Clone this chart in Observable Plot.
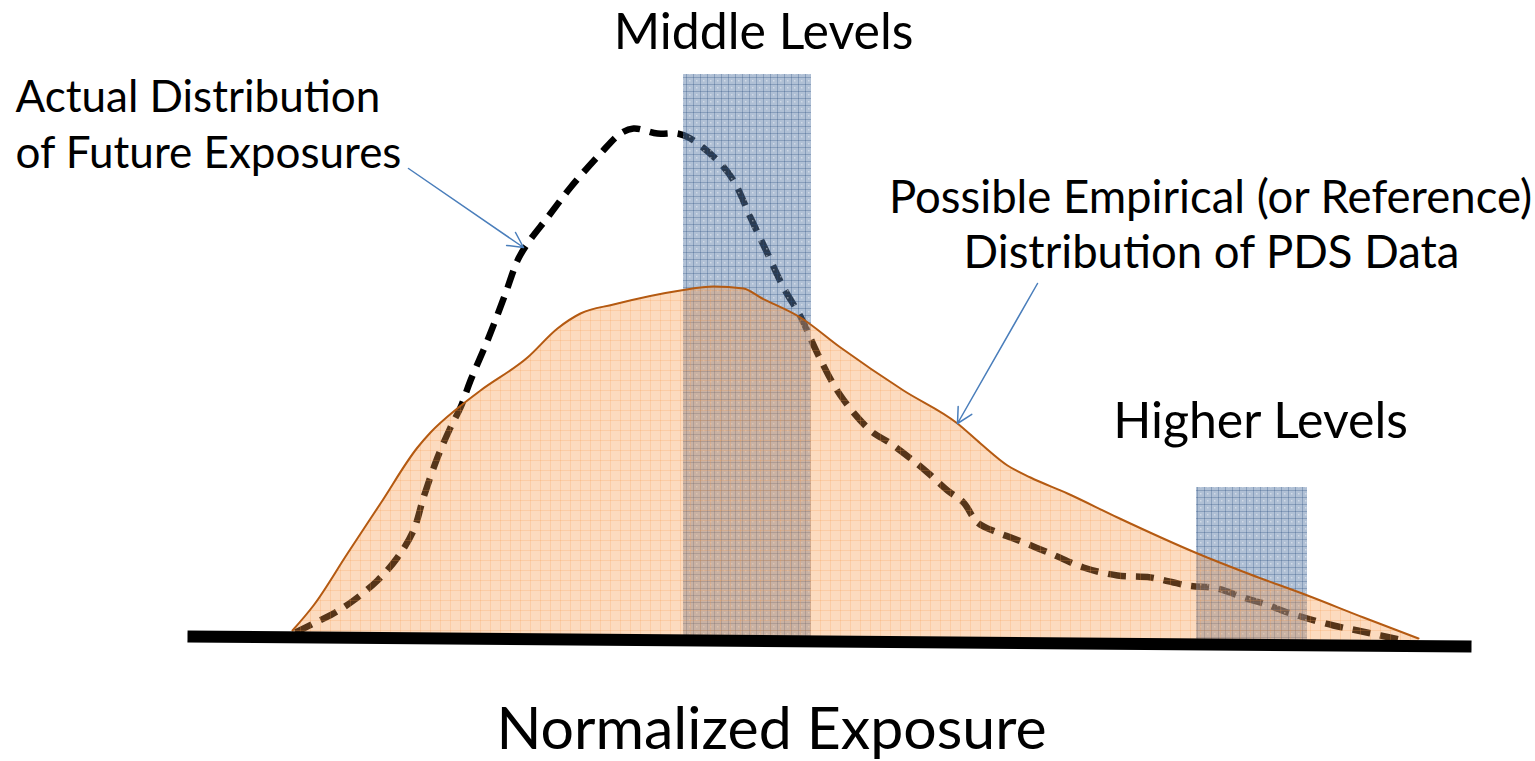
<!DOCTYPE html>
<html>
<head>
<meta charset="utf-8">
<script src="https://cdn.jsdelivr.net/npm/d3@7"></script>
<script src="https://cdn.jsdelivr.net/npm/@observablehq/plot@0.6"></script>
<style>
  html, body { margin: 0; padding: 0; background: #ffffff; }
  #chart svg { display: block; background: #ffffff; }
</style>
</head>
<body>
<svg width="0" height="0" style="position:absolute">
  <defs>
    <pattern id="blueTex" width="7" height="7" patternUnits="userSpaceOnUse">
      <rect width="7" height="7" fill="#5a7aa6" fill-opacity="0.48"></rect>
      <path d="M0 0.5H7M0.5 0V7" stroke="#2c4f80" stroke-opacity="0.3" stroke-width="1"></path>
      <rect x="3" y="3" width="1.5" height="1.5" fill="#ffffff" fill-opacity="0.4"></rect>
    </pattern>
    <pattern id="orangeTex" width="10" height="10" patternUnits="userSpaceOnUse">
      <rect width="10" height="10" fill="#f79646" fill-opacity="0.35"></rect>
      <path d="M0 0.5H10M0.5 0V10" stroke="#f79646" stroke-opacity="0.22" stroke-width="1"></path>
    </pattern>
  </defs>
</svg>
<div id="chart"></div>
<script>
// Empirical (reference) distribution of PDS data — x: normalized exposure, y: density (arbitrary units)
const empiricalX = [10.5, 12.6, 16.0, 19.3, 23.0, 24.3, 27.1, 29.3, 34.0, 37.0, 39.3, 42.6, 49.3, 52.6, 55.6, 57.3, 61.3, 65.3, 71.6, 77.0, 79.3, 82.0, 84.3, 88.0, 93.0, 101.0, 106.3, 112.0, 117.6, 123.1];
const empiricalY = [0.6, 3.1, 8.3, 13.3, 18.9, 20.4, 22.9, 24.6, 27.9, 30.8, 32.3, 33.2, 34.6, 35.0, 34.8, 33.9, 31.9, 28.9, 24.6, 21.3, 19.3, 17.1, 15.9, 14.3, 11.9, 8.3, 6.2, 4.1, 1.9, -0.2];

// Actual distribution of future exposures
const actualX = [10.8, 12.6, 14.6, 16.6, 19.0, 21.0, 22.6, 23.6, 25.0, 26.3, 27.3, 28.3, 30.0, 31.8, 33.0, 34.0, 36.0, 38.3, 41.3, 43.3, 44.6, 47.0, 49.0, 50.3, 53.0, 54.6, 56.3, 58.0, 59.6, 61.3, 63.0, 65.3, 68.3, 70.3, 72.3, 74.0, 76.0, 77.6, 79.0, 81.0, 82.6, 86.3, 89.6, 93.0, 96.3, 100.0, 103.0, 105.6, 107.6, 110.0, 112.0, 114.6, 117.0, 119.3, 121.6];
const actualY = [0.4, 1.3, 2.3, 3.6, 5.6, 7.9, 10.6, 13.9, 17.9, 20.9, 22.9, 25.6, 29.6, 34.3, 37.6, 39.3, 41.9, 44.9, 48.3, 50.3, 50.8, 50.3, 50.3, 49.8, 47.6, 45.6, 41.9, 38.3, 34.9, 32.0, 28.3, 24.1, 20.6, 19.3, 17.8, 16.4, 14.6, 13.4, 11.4, 10.4, 9.8, 8.3, 6.9, 6.1, 5.9, 5.1, 4.8, 3.9, 3.3, 2.4, 1.8, 1.1, 0.6, 0.1, -0.4];

// Highlighted exposure bands
const bandNames = ["Middle Levels", "Higher Levels"];
const bandX1 = [49.6, 100.9];
const bandX2 = [62.4, 112.0];
const bandTop = [56.2, 14.9];

// Horizontal axis line (slightly tilted in the original)
const axisX = [0, 128.4];
const axisY = [0, -1.0];

// Callout arrows
const arrowX1 = [22.1, 85.0];
const arrowY1 = [46.8, 35.3];
const arrowX2 = [33.6, 77.0];
const arrowY2 = [38.9, 21.3];

// Annotation texts
const curveLabels = ["Actual Distribution", "of Future Exposures"];
const curveLabelX = [-17.2, -17.2];
const curveLabelY = [53.9, 48.3];
const refLabels = ["Possible Empirical (or Reference)", "Distribution of PDS Data"];
const refLabelX = [102.3, 102.4];
const refLabelY = [43.8, 38.3];
const bandLabels = ["Middle Levels", "Higher Levels"];
const bandLabelX = [57.6, 107.3];
const bandLabelY = [60.4, 21.5];
const xAxisLabel = ["Normalized Exposure"];
const xAxisLabelX = [58.4];
const xAxisLabelY = [-9.4];

const empirical = empiricalX.map((x, i) => ({x, y: empiricalY[i]}));
const actual = actualX.map((x, i) => ({x, y: actualY[i]}));
const bands = bandNames.map((name, i) => ({name, x1: bandX1[i], x2: bandX2[i], top: bandTop[i]}));
const axisLine = axisX.map((x, i) => ({x, y: axisY[i]}));
const arrows = arrowX1.map((x1, i) => ({x1, y1: arrowY1[i], x2: arrowX2[i], y2: arrowY2[i]}));
const curveLbl = curveLabels.map((t, i) => ({t, x: curveLabelX[i], y: curveLabelY[i]}));
const refLbl = refLabels.map((t, i) => ({t, x: refLabelX[i], y: refLabelY[i]}));
const bandLbl = bandLabels.map((t, i) => ({t, x: bandLabelX[i], y: bandLabelY[i]}));
const axisLbl = xAxisLabel.map((t, i) => ({t, x: xAxisLabelX[i], y: xAxisLabelY[i]}));

const chart = Plot.plot({
  width: 1535,
  height: 761,
  marginLeft: 187,
  marginRight: 64,
  marginTop: 74,
  marginBottom: 125,
  style: {fontFamily: "Lato, 'Open Sans', sans-serif", background: "#ffffff"},
  x: {domain: [0, 128.4], axis: null},
  y: {domain: [0, 56.2], axis: null},
  marks: [
    Plot.line(actual, {x: "x", y: "y", curve: "catmull-rom", stroke: "#000000", strokeWidth: 6.5, strokeDasharray: "18,10", strokeLinecap: "butt"}),
    Plot.rectY(bands, {x1: "x1", x2: "x2", y1: -0.6, y2: "top", fill: "url(#blueTex)"}),
    Plot.areaY(empirical, {x: "x", y: "y", y1: -0.6, curve: "monotone-x", fill: "url(#orangeTex)"}),
    Plot.line(empirical, {x: "x", y: "y", curve: "monotone-x", stroke: "#b45a12", strokeWidth: 2}),
    Plot.line(axisLine, {x: "x", y: "y", stroke: "#000000", strokeWidth: 12, strokeLinecap: "butt"}),
    Plot.arrow(arrows, {x1: "x1", y1: "y1", x2: "x2", y2: "y2", stroke: "#4a7ebb", strokeWidth: 1.5, headLength: 17, headAngle: 55}),
    Plot.text(curveLbl, {x: "x", y: "y", text: "t", textAnchor: "start", lineAnchor: "middle", fontSize: 44, fill: "#000000"}),
    Plot.text(refLbl, {x: "x", y: "y", text: "t", textAnchor: "middle", lineAnchor: "middle", fontSize: 45.5, fill: "#000000"}),
    Plot.text(bandLbl, {x: "x", y: "y", text: "t", textAnchor: "middle", lineAnchor: "middle", fontSize: 50, fill: "#000000"}),
    Plot.text(axisLbl, {x: "x", y: "y", text: "t", textAnchor: "middle", lineAnchor: "middle", fontSize: 59, fill: "#000000"})
  ]
});
document.getElementById("chart").appendChild(chart);
</script>
</body>
</html>
